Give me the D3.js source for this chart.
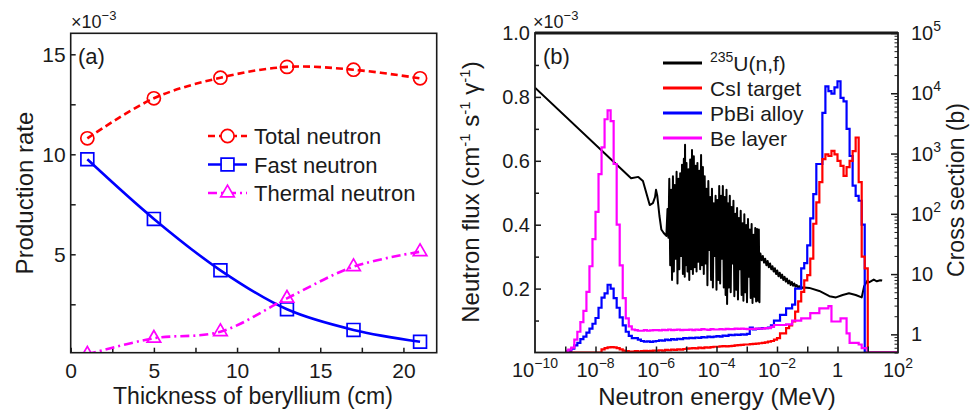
<!DOCTYPE html>
<html>
<head>
<meta charset="utf-8">
<script src="https://cdn.jsdelivr.net/npm/d3@7"></script>
<style>
  html, body { margin: 0; padding: 0; background: #fff; }
  svg { display: block; font-family: "Liberation Sans", Arial, Helvetica, sans-serif; }
</style>
</head>
<body>
<svg id="chart" width="974" height="418"></svg>
<script>
// ---------------- Panel (a): production rate vs. beryllium thickness ----------------
const thickness      = [1, 5, 9, 13, 17, 21];
const totalNeutron   = [10.8, 12.8, 13.83, 14.37, 14.23, 13.8];
const fastNeutron    = [9.75, 6.77, 4.2, 2.25, 1.22, 0.63];
const thermalNeutron = [0.0, 0.8, 1.13, 2.8, 4.38, 5.13];
const thicknessTicks = [0, 5, 10, 15, 20];
const thicknessMinor = [2.5, 7.5, 12.5, 17.5];
const rateTicks      = [5, 10, 15];
const rateMinor      = [2.5, 7.5, 12.5];

// ---------------- Panel (b): neutron spectra (x1e-3), 10 log bins per decade from 1e-9 MeV ----------------
const fluxStartExp = -9;
const fluxBinsPerDecade = 10;
const beFlux = [
  0.005, 0.009, 0.015, 0.04, 0.065, 0.095, 0.13, 0.19, 0.27, 0.355,
  0.44, 0.558, 0.642, 0.73, 0.758, 0.724, 0.59, 0.40, 0.273, 0.17,
  0.107, 0.082, 0.072, 0.07, 0.068, 0.068, 0.07, 0.068, 0.069, 0.07,
  0.07, 0.069, 0.071, 0.07, 0.072, 0.07, 0.071, 0.072, 0.07, 0.071,
  0.071, 0.072, 0.07, 0.072, 0.071, 0.073, 0.072, 0.071, 0.073, 0.072,
  0.072, 0.073, 0.072, 0.074, 0.073, 0.073, 0.075, 0.074, 0.075, 0.074,
  0.073, 0.074, 0.074, 0.075, 0.075, 0.075, 0.076, 0.076, 0.08, 0.086,
  0.086, 0.086, 0.086, 0.088, 0.088, 0.10, 0.10, 0.10, 0.107, 0.107,
  0.107, 0.123, 0.123, 0.123, 0.138, 0.138, 0.138, 0.145, 0.097, 0.097,
  0.097, 0.107, 0.107, 0.06, 0.03, 0.03, 0.03, 0.025, 0.014, 0.014,
  0, 0, 0, 0, 0, 0, 0, 0, 0, 0
];
const pbbiFlux = [
  0, 0.005, 0.012, 0.022, 0.03, 0.042, 0.05, 0.062, 0.075, 0.09,
  0.108, 0.14, 0.172, 0.185, 0.212, 0.2, 0.17, 0.14, 0.11, 0.085,
  0.065, 0.052, 0.045, 0.045, 0.04, 0.036, 0.034, 0.035, 0.033, 0.035,
  0.036, 0.038, 0.037, 0.04, 0.039, 0.042, 0.04, 0.043, 0.042, 0.045,
  0.044, 0.046, 0.045, 0.047, 0.046, 0.048, 0.047, 0.05, 0.048, 0.05,
  0.051, 0.05, 0.053, 0.052, 0.055, 0.054, 0.056, 0.055, 0.057, 0.056,
  0.058, 0.078, 0.072, 0.074, 0.075, 0.076, 0.076, 0.078, 0.085, 0.1,
  0.10, 0.118, 0.118, 0.138, 0.138, 0.15, 0.2, 0.2, 0.263, 0.28,
  0.335, 0.42, 0.496, 0.59, 0.59, 0.75, 0.833, 0.818, 0.81, 0.83,
  0.849, 0.797, 0.786, 0.70, 0.615, 0.522, 0.49, 0.475, 0.40, 0,
  0, 0, 0, 0, 0, 0, 0, 0, 0, 0
];
const csiFlux = [
  0, 0, 0, 0, 0, 0, 0, 0, 0, 0,
  0, 0, 0.01, 0.014, 0.016, 0.017, 0.016, 0.014, 0.01, 0.006,
  0.004, 0.003, 0.003, 0.004, 0.003, 0.004, 0.005, 0.004, 0.005, 0.006,
  0.006, 0.007, 0.006, 0.008, 0.007, 0.009, 0.008, 0.01, 0.009, 0.011,
  0.012, 0.013, 0.014, 0.013, 0.015, 0.014, 0.016, 0.015, 0.017, 0.018,
  0.018, 0.019, 0.02, 0.019, 0.02, 0.021, 0.022, 0.023, 0.024, 0.025,
  0.025, 0.026, 0.027, 0.028, 0.029, 0.03, 0.032, 0.034, 0.036, 0.04,
  0.045, 0.06, 0.06, 0.076, 0.085, 0.097, 0.128, 0.16, 0.19, 0.226,
  0.242, 0.294, 0.403, 0.47, 0.533, 0.605, 0.62, 0.615, 0.631, 0.62,
  0.60, 0.584, 0.553, 0.58, 0.60, 0.63, 0.673, 0.533, 0.30, 0.263,
  0, 0, 0, 0, 0, 0, 0, 0, 0, 0
];

// 235U(n,f) cross section: [energy (MeV), sigma (b)]
const u235Fission = [
  [1e-10, 12400], [1.5e-7, 390], [2.6e-7, 410], [3.7e-7, 350], [6.2e-7, 140], [7.9e-7, 150],
  [9.3e-7, 190], [1.0e-6, 250], [1.1e-6, 200], [1.3e-6, 92], [1.5e-6, 55], [1.8e-6, 48], [2.2e-6, 43],
  // resolved resonance region
  [2.4e-6, 120], [2.57e-6, 40], [2.75e-6, 380], [2.95e-6, 14], [3.16e-6, 250], [3.39e-6, 8],
  [3.63e-6, 420], [3.89e-6, 11], [4.17e-6, 300], [4.47e-6, 18], [4.79e-6, 500], [5.13e-6, 7],
  [5.5e-6, 380], [5.89e-6, 12], [6.31e-6, 470], [6.76e-6, 20], [7.24e-6, 650], [7.76e-6, 10],
  [8.32e-6, 820], [8.91e-6, 9], [9.12e-6, 1400], [9.55e-6, 14], [1.02e-5, 700], [1.1e-5, 11],
  [1.17e-5, 550], [1.26e-5, 8], [1.35e-5, 800], [1.45e-5, 12], [1.55e-5, 1150], [1.66e-5, 10],
  [1.78e-5, 900], [1.91e-5, 13], [2.04e-5, 630], [2.19e-5, 11], [2.34e-5, 700], [2.51e-5, 16],
  [2.69e-5, 520], [2.88e-5, 12], [3.09e-5, 950], [3.31e-5, 14], [3.55e-5, 600], [3.8e-5, 10],
  [4.07e-5, 420], [4.37e-5, 15], [4.68e-5, 260], [5.01e-5, 6.5], [5.37e-5, 350], [5.75e-5, 25],
  [6.17e-5, 190], [6.61e-5, 8], [7.08e-5, 260], [7.59e-5, 6], [8.13e-5, 150], [8.71e-5, 20],
  [9.33e-5, 200], [1.0e-4, 5.5], [1.07e-4, 170], [1.15e-4, 8], [1.23e-4, 290], [1.32e-4, 7],
  [1.41e-4, 200], [1.51e-4, 18], [1.62e-4, 290], [1.74e-4, 6], [1.86e-4, 190], [2.0e-4, 4.5],
  [2.14e-4, 250], [2.24e-4, 3.2], [2.4e-4, 150], [2.57e-4, 6], [2.75e-4, 200], [2.95e-4, 5],
  [3.16e-4, 130], [3.39e-4, 15], [3.63e-4, 165], [3.89e-4, 4.3], [4.17e-4, 100], [4.47e-4, 5.5],
  [4.79e-4, 125], [5.13e-4, 3.8], [5.5e-4, 85], [5.89e-4, 12], [6.31e-4, 112], [6.76e-4, 4.5],
  [7.24e-4, 70], [7.76e-4, 3.6], [8.32e-4, 98], [8.91e-4, 5], [9.55e-4, 65], [1.02e-3, 3.4],
  [1.1e-3, 82], [1.17e-3, 9], [1.26e-3, 55], [1.35e-3, 4], [1.45e-3, 68], [1.55e-3, 3.3],
  [1.66e-3, 45], [1.78e-3, 4.2], [1.91e-3, 58], [2.04e-3, 3.5], [2.19e-3, 56], [2.34e-3, 3.6],
  [2.51e-3, 55], [2.63e-3, 3.4], [2.69e-3, 20],
  // unresolved region and fast range
  [2.82e-3, 22], [3.09e-3, 17], [3.39e-3, 20], [3.72e-3, 15.5], [4.07e-3, 18], [4.47e-3, 14],
  [4.9e-3, 16.5], [5.37e-3, 13], [5.89e-3, 15], [6.46e-3, 12], [7.08e-3, 13.5], [7.76e-3, 11],
  [8.51e-3, 12.5], [9.33e-3, 10], [1.02e-2, 11.5], [1.12e-2, 9.2], [1.23e-2, 10.5], [1.35e-2, 8.6],
  [1.48e-2, 9.8], [1.62e-2, 8.0], [1.78e-2, 9.0], [1.95e-2, 7.5], [2.14e-2, 8.4], [2.34e-2, 7.0],
  [2.57e-2, 7.8], [2.82e-2, 6.6], [3.09e-2, 7.4], [3.39e-2, 6.4], [3.72e-2, 7.0], [4.07e-2, 6.2],
  [4.47e-2, 6.6], [4.9e-2, 6.0], [5.37e-2, 6.3], [5.89e-2, 5.9], [6.46e-2, 6.1], [7.08e-2, 5.9],
  [7.94e-2, 6.0], [0.117, 5.9], [0.25, 5.25], [0.54, 4.3], [0.89, 4.1], [1.48, 4.5], [2.4, 4.8],
  [4.0, 4.5], [6.3, 4.1], [7.6, 6.3], [9.8, 7.8], [11, 7.3], [15.8, 8.1], [20, 7.6], [25.7, 7.9], [30, 7.8]
];

const energyLabelExps = [-10, -8, -6, -4, -2, 0, 2];
const energyTickExps  = [-9, -8, -7, -6, -5, -4, -3, -2, -1, 0, 1];
const fluxTicks  = [0.2, 0.4, 0.6, 0.8];
const fluxMinor  = [0.1, 0.3, 0.5, 0.7, 0.9];
const xsExps     = [0, 1, 2, 3, 4, 5];

const seriesB = [
  { name: "CsI target", values: csiFlux,  color: "#ff0000" },
  { name: "PbBi alloy", values: pbbiFlux, color: "#0000ff" },
  { name: "Be layer",   values: beFlux,   color: "#ff00ff" }
];

// ------------------------------------------------------------------------------------
const svg = d3.select("#chart");
const FONT = '"Liberation Sans", Arial, Helvetica, sans-serif';
const INK = "#1a1a1a";
const defs = svg.append("defs");

function styleAxis(g, size) {
  g.select(".domain").remove();
  g.selectAll("line").attr("stroke", INK).attr("stroke-width", 1.5);
  g.selectAll("text").attr("font-size", size).attr("font-family", FONT).attr("fill", INK);
}
function sup(text, base, exp, size, rise) {
  text.append("tspan").text(base);
  text.append("tspan").attr("font-size", size).attr("dy", -rise).text(exp);
}

// ================= Panel (a) =================
const xA = d3.scaleLinear().domain([0, 22]).range([70.7, 436.7]);
const yA = d3.scaleLinear().domain([0.08, 16.05]).range([352.7, 33.3]);

defs.append("clipPath").attr("id", "clipA").append("rect")
  .attr("x", xA.range()[0]).attr("y", yA.range()[1])
  .attr("width", xA.range()[1] - xA.range()[0]).attr("height", yA.range()[0] - yA.range()[1]);

const gA = svg.append("g");

// axes (ticks inward)
gA.append("g").attr("transform", `translate(0,${yA.range()[0]})`)
  .call(d3.axisBottom(xA).tickValues(thicknessTicks).tickSize(-5).tickPadding(10).tickFormat(d3.format("d")))
  .call(g => styleAxis(g, 21));
gA.append("g").attr("transform", `translate(0,${yA.range()[0]})`)
  .call(d3.axisBottom(xA).tickValues(thicknessMinor).tickSize(-5).tickFormat(""))
  .call(g => styleAxis(g, 21));
gA.append("g").attr("transform", `translate(${xA.range()[0]},0)`)
  .call(d3.axisLeft(yA).tickValues(rateTicks).tickSize(-5).tickPadding(5).tickFormat(d3.format("d")))
  .call(g => styleAxis(g, 21));
gA.append("g").attr("transform", `translate(${xA.range()[0]},0)`)
  .call(d3.axisLeft(yA).tickValues(rateMinor).tickSize(-5).tickFormat(""))
  .call(g => styleAxis(g, 21));

const seriesA = [
  { name: "Total neutron",   values: totalNeutron,   color: "#ff0000", dash: "7,4",     symbol: d3.symbolCircle,   size: 135 },
  { name: "Fast neutron",    values: fastNeutron,    color: "#0000ff", dash: null,      symbol: d3.symbolSquare,   size: 165 },
  { name: "Thermal neutron", values: thermalNeutron, color: "#ff00ff", dash: "9,4,2,4", symbol: d3.symbolTriangle, size: 80 }
];

const lineA = d3.line().x(d => xA(d[0])).y(d => yA(d[1])).curve(d3.curveCatmullRom.alpha(0.5));
const plotA = gA.append("g").attr("clip-path", "url(#clipA)");
seriesA.forEach(s => {
  const pts = thickness.map((t, i) => [t, s.values[i]]);
  plotA.append("path").attr("d", lineA(pts)).attr("fill", "none")
    .attr("stroke", s.color).attr("stroke-width", 2.6)
    .attr("stroke-dasharray", s.dash);
  plotA.selectAll(null).data(pts).enter().append("path")
    .attr("d", d3.symbol().type(s.symbol).size(s.size))
    .attr("transform", d => `translate(${xA(d[0])},${yA(d[1])})`)
    .attr("fill", "none").attr("stroke", s.color).attr("stroke-width", 1.7);
});

gA.append("rect").attr("x", xA.range()[0]).attr("y", yA.range()[1])
  .attr("width", xA.range()[1] - xA.range()[0]).attr("height", yA.range()[0] - yA.range()[1])
  .attr("fill", "none").attr("stroke", INK).attr("stroke-width", 1.6);

// legend (a)
seriesA.forEach((s, i) => {
  const cy = 136 + i * 28.5;
  gA.append("line").attr("x1", 208).attr("x2", 247).attr("y1", cy).attr("y2", cy)
    .attr("stroke", s.color).attr("stroke-width", 2.6).attr("stroke-dasharray", s.dash);
  gA.append("path").attr("d", d3.symbol().type(s.symbol).size(s.size)())
    .attr("transform", `translate(227.5,${cy})`)
    .attr("fill", "#fff").attr("stroke", s.color).attr("stroke-width", 1.7);
  gA.append("text").attr("x", 254).attr("y", cy + 8).attr("font-size", 22).attr("fill", INK).text(s.name);
});

gA.append("text").attr("x", 78).attr("y", 64).attr("font-size", 22).attr("fill", INK).text("(a)");
sup(gA.append("text").attr("x", 71).attr("y", 28).attr("font-size", 18).attr("fill", INK), "\u00d710", "\u22123", 13, 8);

gA.append("text").attr("text-anchor", "middle").attr("x", 253).attr("y", 404)
  .attr("font-size", 23).attr("fill", INK).text("Thickness of beryllium (cm)");
gA.append("text").attr("text-anchor", "middle")
  .attr("transform", "translate(33,193) rotate(-90)")
  .attr("font-size", 24).attr("fill", INK).text("Production rate");

// ================= Panel (b) =================
const xB = d3.scaleLog().domain([1e-10, 1e2]).range([535, 898]);
const yB = d3.scaleLinear().domain([0, 1.0]).range([352.5, 33]);
const yR = d3.scaleLog().domain([0.5, 1e5]).range([352.5, 33]);

defs.append("clipPath").attr("id", "clipB").append("rect")
  .attr("x", xB.range()[0]).attr("y", yB.range()[1])
  .attr("width", xB.range()[1] - xB.range()[0]).attr("height", yB.range()[0] - yB.range()[1]);

const gB = svg.append("g");
const plotB = gB.append("g").attr("clip-path", "url(#clipB)");

// cross section curve (right axis)
const xsLine = d3.line().x(d => xB(d[0])).y(d => yR(d[1]));
plotB.append("path").attr("d", xsLine(u235Fission)).attr("fill", "none")
  .attr("stroke", "#000").attr("stroke-width", 2).attr("stroke-linejoin", "round");

// flux histograms (left axis)
const nBins = beFlux.length;
const edges = d3.range(nBins + 1).map(i => Math.pow(10, fluxStartExp + i / fluxBinsPerDecade));
const histLine = d3.line().x(d => xB(d[0])).y(d => yB(d[1])).curve(d3.curveStepAfter);
const drawOrder = [seriesB[1], seriesB[0], seriesB[2]];
drawOrder.forEach(s => {
  const pts = s.values.map((v, i) => [edges[i], v]);
  pts.push([edges[nBins], s.values[nBins - 1]]);
  plotB.append("path").attr("d", histLine(pts)).attr("fill", "none")
    .attr("stroke", s.color).attr("stroke-width", 2.2);
});

// bottom axis: a tick at each decade
gB.append("g").attr("transform", `translate(0,${yB.range()[0]})`)
  .call(d3.axisBottom(xB).tickValues(energyTickExps.map(e => Math.pow(10, e))).tickSize(-6).tickFormat(""))
  .call(g => styleAxis(g, 20));
energyLabelExps.forEach(e => {
  const t = gB.append("text").attr("x", xB(Math.pow(10, e))).attr("y", 377)
    .attr("text-anchor", "middle").attr("font-size", 20).attr("fill", INK);
  if (e === 0) t.text("1");
  else sup(t, "10", e < 0 ? "\u2212" + (-e) : String(e), 14, 9);
});

// left axis
gB.append("g").attr("transform", `translate(${xB.range()[0]},0)`)
  .call(d3.axisLeft(yB).tickValues(fluxTicks).tickSize(-6).tickPadding(5).tickFormat(d3.format(".1f")))
  .call(g => styleAxis(g, 20));
gB.append("g").attr("transform", `translate(${xB.range()[0]},0)`)
  .call(d3.axisLeft(yB).tickValues(fluxMinor).tickSize(-4).tickFormat(""))
  .call(g => styleAxis(g, 20));
gB.append("text").attr("x", 530).attr("y", yB(1.0) + 7).attr("text-anchor", "end")
  .attr("font-size", 20).attr("fill", INK).text("1.0");

// right axis (log)
const xsMinor = [];
[-1, 0, 1, 2, 3, 4].forEach(d => d3.range(2, 10).forEach(k => {
  const v = k * Math.pow(10, d);
  if (v >= 0.5 && v < 1e5) xsMinor.push(v);
}));
gB.append("g").attr("transform", `translate(${xB.range()[1]},0)`)
  .call(d3.axisRight(yR).tickValues(xsExps.map(e => Math.pow(10, e))).tickSize(-7).tickFormat(""))
  .call(g => styleAxis(g, 20));
gB.append("g").attr("transform", `translate(${xB.range()[1]},0)`)
  .call(d3.axisRight(yR).tickValues(xsMinor).tickSize(-3.5).tickFormat(""))
  .call(g => g.select(".domain").remove())
  .call(g => g.selectAll("line").attr("stroke", INK).attr("stroke-width", 1));
xsExps.forEach(e => {
  const t = gB.append("text").attr("x", 911).attr("y", yR(Math.pow(10, e)) + 7)
    .attr("font-size", 20).attr("fill", INK);
  if (e === 0) t.text("1");
  else if (e === 1) t.text("10");
  else sup(t, "10", String(e), 14, 9);
});

// frame
const bx0 = xB.range()[0], bx1 = xB.range()[1], by0 = yB.range()[1], by1 = yB.range()[0];
gB.append("rect").attr("x", bx0).attr("y", by0).attr("width", bx1 - bx0).attr("height", by1 - by0)
  .attr("fill", "none").attr("stroke", INK).attr("stroke-width", 1.8);
gB.append("line").attr("x1", bx0).attr("x2", bx1).attr("y1", by0).attr("y2", by0)
  .attr("stroke", INK).attr("stroke-width", 3);

// legend (b)
const legendB = [{ name: "U(n,f)", color: "#000", isU: true }].concat(seriesB);
legendB.forEach((s, i) => {
  const cy = 63 + i * 25;
  gB.append("line").attr("x1", 663).attr("x2", 702).attr("y1", cy).attr("y2", cy)
    .attr("stroke", s.color).attr("stroke-width", 3);
  const t = gB.append("text").attr("x", 710).attr("y", cy + 7.5).attr("font-size", 21).attr("fill", INK);
  if (s.isU) {
    t.append("tspan").attr("font-size", 14).attr("dy", -9).text("235");
    t.append("tspan").attr("dy", 9).text(s.name);
  } else {
    t.text(s.name);
  }
});

gB.append("text").attr("x", 543).attr("y", 64).attr("font-size", 22).attr("fill", INK).text("(b)");
sup(gB.append("text").attr("x", 533).attr("y", 28).attr("font-size", 18).attr("fill", INK), "\u00d710", "\u22123", 13, 8);

gB.append("text").attr("text-anchor", "middle").attr("x", 717).attr("y", 405)
  .attr("font-size", 24).attr("fill", INK).text("Neutron energy (MeV)");

const yLab = gB.append("text").attr("text-anchor", "middle")
  .attr("transform", "translate(479,192) rotate(-90)").attr("font-size", 24).attr("fill", INK);
yLab.append("tspan").text("Neutron flux (cm");
yLab.append("tspan").attr("font-size", 15).attr("dy", -9).text("-1");
yLab.append("tspan").attr("dy", 9).text(" s");
yLab.append("tspan").attr("font-size", 15).attr("dy", -9).text("-1");
yLab.append("tspan").attr("dy", 9).text(" \u03b3");
yLab.append("tspan").attr("font-size", 15).attr("dy", -9).text("-1");
yLab.append("tspan").attr("dy", 9).text(")");

gB.append("text").attr("text-anchor", "middle")
  .attr("transform", "translate(964,190) rotate(-90)").attr("font-size", 23).attr("fill", INK)
  .text("Cross section (b)");
</script>
</body>
</html>
